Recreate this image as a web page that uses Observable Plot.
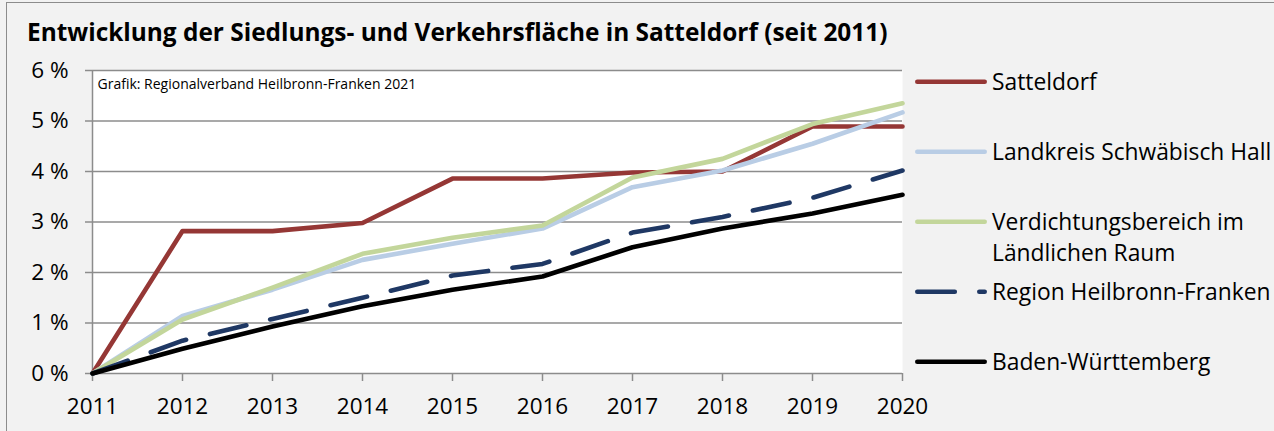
<!DOCTYPE html>
<html><head><meta charset="utf-8">
<script src="https://cdn.jsdelivr.net/npm/d3@7"></script>
<script src="https://cdn.jsdelivr.net/npm/@observablehq/plot@0.6"></script>
<style>
html,body{margin:0;padding:0;background:#f2f2f2;}
#wrap{position:relative;width:1274px;height:431px;overflow:hidden;background:#f2f2f2;font-family:"Open Sans",sans-serif;color:#000;}
#border{position:absolute;left:6px;top:2px;width:1400px;height:600px;border:1.5px solid #8c8c8c;box-sizing:border-box;}
#title{position:absolute;left:27px;top:20px;font-weight:bold;font-size:21px;line-height:24px;white-space:nowrap;}
#chart{position:absolute;left:0;top:50px;}
.leg{position:absolute;left:915px;display:flex;align-items:flex-start;}
.leg svg{flex:none;margin-right:5px;}
.leg div{font-size:22.8px;line-height:31.5px;white-space:nowrap;}
</style></head>
<body>
<div id="wrap">
  <div id="border"></div>
  <div id="title">Entwicklung der Siedlungs- und Verkehrsfläche in Satteldorf (seit 2011)</div>
  <div id="chart"></div>
</div>
<script>
const years = [2011, 2012, 2013, 2014, 2015, 2016, 2017, 2018, 2019, 2020];
const satteldorf  = [0, 2.82, 2.82, 2.98, 3.86, 3.86, 3.98, 4.00, 4.89, 4.89];
const landkreis   = [0, 1.14, 1.66, 2.25, 2.57, 2.87, 3.69, 4.02, 4.55, 5.17];
const verdichtung = [0, 1.07, 1.70, 2.37, 2.69, 2.93, 3.88, 4.25, 4.94, 5.35];
const region      = [0, 0.65, 1.08, 1.50, 1.94, 2.17, 2.79, 3.10, 3.48, 4.02];
const bw          = [0, 0.49, 0.93, 1.33, 1.66, 1.92, 2.50, 2.87, 3.17, 3.54];
const seriesNames = ["Satteldorf", "Landkreis Schwäbisch Hall", "Verdichtungsbereich im Ländlichen Raum", "Region Heilbronn-Franken", "Baden-Württemberg"];
const seriesLegendLines = [["Satteldorf"], ["Landkreis Schwäbisch Hall"], ["Verdichtungsbereich im", "Ländlichen Raum"], ["Region Heilbronn-Franken"], ["Baden-Württemberg"]];
const seriesValues = [satteldorf, landkreis, verdichtung, region, bw];
const seriesColors = ["#953735", "#b9cde5", "#c3d69b", "#1f3864", "#000000"];
const seriesDash = [null, null, null, "37.5,24.5", null];
const yTicks = [0, 1, 2, 3, 4, 5, 6];
const sourceNote = "Grafik: Regionalverband Heilbronn-Franken 2021";

const lineW = 4.6;
const grid = "#8c8c8c";

// fit title width to the reference span
const titleEl = document.getElementById("title");
const tw = titleEl.getBoundingClientRect().width;
titleEl.style.fontSize = (21 * 861 / tw) + "px";

const lineMarks = seriesNames.map((name, i) => {
  const rows = years.map((y, j) => ({year: y, value: seriesValues[i][j]}));
  return Plot.line(rows, {
    x: "year", y: "value", stroke: seriesColors[i], strokeWidth: lineW,
    strokeLinecap: "round", strokeLinejoin: "round",
    strokeDasharray: seriesDash[i] || undefined
  });
});

const chart = Plot.plot({
  width: 1274, height: 381,
  marginLeft: 92, marginRight: 372, marginTop: 20, marginBottom: 58,
  style: {background: "transparent", fontFamily: "'Open Sans', sans-serif", fontSize: "22.5px", color: "#000", overflow: "visible"},
  x: {domain: [2011, 2020]},
  y: {domain: [0, 6]},
  marks: [
    Plot.frame({fill: "white", stroke: "none"}),
    Plot.gridY(yTicks, {stroke: grid, strokeOpacity: 1, strokeWidth: 1.5}),
    Plot.ruleX([2011], {stroke: grid, strokeWidth: 1.5}),
    Plot.axisY(yTicks, {tickSize: 7, tickPadding: 17, stroke: grid, strokeWidth: 1.5, tickFormat: d => d + " %", label: null, fontSize: 22.5}),
    Plot.axisX(years, {tickSize: 8, tickPadding: 17, stroke: grid, strokeWidth: 1.5, tickFormat: d => String(d), label: null, fontSize: 22.5}),
    ...lineMarks,
    Plot.text([sourceNote], {frameAnchor: "top-left", textAnchor: "start", lineAnchor: "top", dx: 5, dy: 9, fontSize: 14, fill: "#000"})
  ]
});
document.getElementById("chart").appendChild(chart);

// legend
const legendY = [81.7, 151.7, 221.7, 291.7, 361.7];
const wrap = document.getElementById("wrap");
seriesNames.forEach((name, i) => {
  const item = document.createElement("div");
  item.className = "leg";
  item.style.top = (legendY[i] - 15.75) + "px";
  const ns = "http://www.w3.org/2000/svg";
  const svg = document.createElementNS(ns, "svg");
  svg.setAttribute("width", 72); svg.setAttribute("height", 31.5);
  const ln = document.createElementNS(ns, "line");
  ln.setAttribute("x1", lineW / 2); ln.setAttribute("x2", 72 - lineW / 2);
  ln.setAttribute("y1", 15.75); ln.setAttribute("y2", 15.75);
  ln.setAttribute("stroke", seriesColors[i]); ln.setAttribute("stroke-width", lineW);
  ln.setAttribute("stroke-linecap", "round");
  if (seriesDash[i]) ln.setAttribute("stroke-dasharray", seriesDash[i]);
  svg.appendChild(ln);
  item.appendChild(svg);
  const t = document.createElement("div");
  t.innerHTML = seriesLegendLines[i].join("<br>");
  item.appendChild(t);
  wrap.appendChild(item);
});
</script>
</body></html>
